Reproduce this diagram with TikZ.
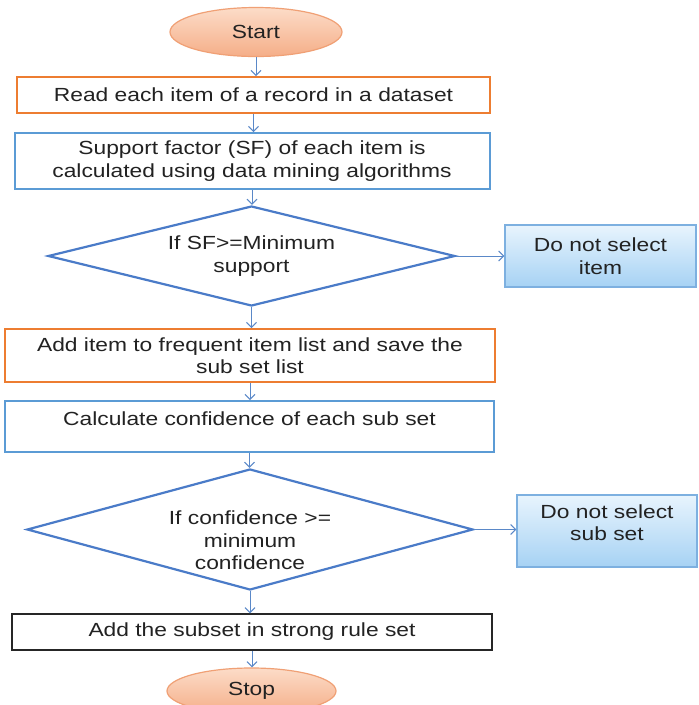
\documentclass[tikz,border=0pt]{standalone}
\usepackage{fontspec}
\setmainfont[FakeStretch=1.2]{Liberation Sans}
\usetikzlibrary{shapes.geometric,arrows.meta}
\definecolor{orbrd}{HTML}{ED7D31}
\definecolor{blbrd}{HTML}{5B9BD5}
\definecolor{dmbrd}{HTML}{4A7BC8}
\definecolor{arrc}{HTML}{5A88C8}
\definecolor{txtc}{HTML}{222222}
\definecolor{ovtop}{HTML}{FCDCC8}
\definecolor{ovbot}{HTML}{F5AE88}
\definecolor{ovbrd}{HTML}{F0A075}
\definecolor{sbtop}{HTML}{E8F4FD}
\definecolor{sbbot}{HTML}{A6D2F4}
\definecolor{sbbrd}{HTML}{7DB0E0}
\tikzset{
  every node/.style={text=txtc, font=\fontsize{19}{22.5}\selectfont, align=center, inner sep=0pt},
  oval/.style={ellipse, draw=ovbrd, line width=1.2pt, top color=ovtop, bottom color=ovbot},
  obox/.style={rectangle, draw=orbrd, line width=2pt},
  bbox/.style={rectangle, draw=blbrd, line width=2pt},
  kbox/.style={rectangle, draw=black!85, line width=1.5pt},
  dec/.style={diamond, draw=dmbrd, line width=2.2pt},
  sidebox/.style={rectangle, draw=sbbrd, line width=1.2pt, top color=sbtop, bottom color=sbbot},
  flow/.style={draw=arrc, line width=1pt, -{Straight Barb[length=5pt,width=10pt]}}
}
\begin{document}
\begin{tikzpicture}[x=1pt,y=-1pt]
\clip (0,0) rectangle (699,705);
\fill[white] (0,0) rectangle (699,705);
\node[oval, minimum width=172pt, minimum height=49pt] (start) at (256,32) {Start};
\node[obox, minimum width=473pt, minimum height=36pt] (b1) at (253.5,95) {Read each item of a record in a dataset};
\node[bbox, minimum width=475pt, minimum height=56pt] (b2) at (252,161) {Support factor (SF) of each item is\\calculated using data mining algorithms};
\node[dec, shape aspect=4.07, minimum width=407pt, minimum height=100pt] (d1) at (251.5,256) {If SF>=Minimum\\support};
\node[sidebox, minimum width=191pt, minimum height=62pt] (s1) at (600.5,256) {Do not select\\item};
\node[obox, minimum width=490pt, minimum height=53pt] (b3) at (250,355.5) {Add item to frequent item list and save the\\sub set list};
\node[bbox, minimum width=489pt, minimum height=51pt, text height=12pt, text depth=14.4pt] (b4) at (249.5,426.5) {Calculate confidence of each sub set};
\node[dec, shape aspect=3.686, minimum width=446pt, minimum height=121pt,
  label={[name=d2t, yshift=-11pt]center:{If confidence >=\\minimum\\confidence}}] (d2) at (250,529.5) {};
\node[sidebox, minimum width=180pt, minimum height=72pt, text height=24pt, text depth=4.4pt] (s2) at (607,531) {Do not select\\sub set};
\node[kbox, minimum width=480pt, minimum height=36pt] (b5) at (252,632) {Add the subset in strong rule set};
\node[oval, minimum width=169pt, minimum height=46pt] (stop) at (251.5,691) {Stop};
\draw[flow] (start.south) -- (start.south |- b1.north);
\draw[flow] (b1.south) -- (b1.south |- b2.north);
\draw[flow] (b2.south) -- (b2.south |- d1.north);
\draw[flow] (d1.east) -- (d1.east -| s1.west);
\draw[flow] (d1.south) -- (d1.south |- b3.north);
\draw[flow] (b3.south) -- (b3.south |- b4.north);
\draw[flow] (b4.south) -- (b4.south |- d2.north);
\draw[flow] (d2.east) -- (d2.east -| s2.west);
\draw[flow] (d2.south) -- (d2.south |- b5.north);
\draw[flow] (b5.south) -- (b5.south |- stop.north);
\end{tikzpicture}
\end{document}
